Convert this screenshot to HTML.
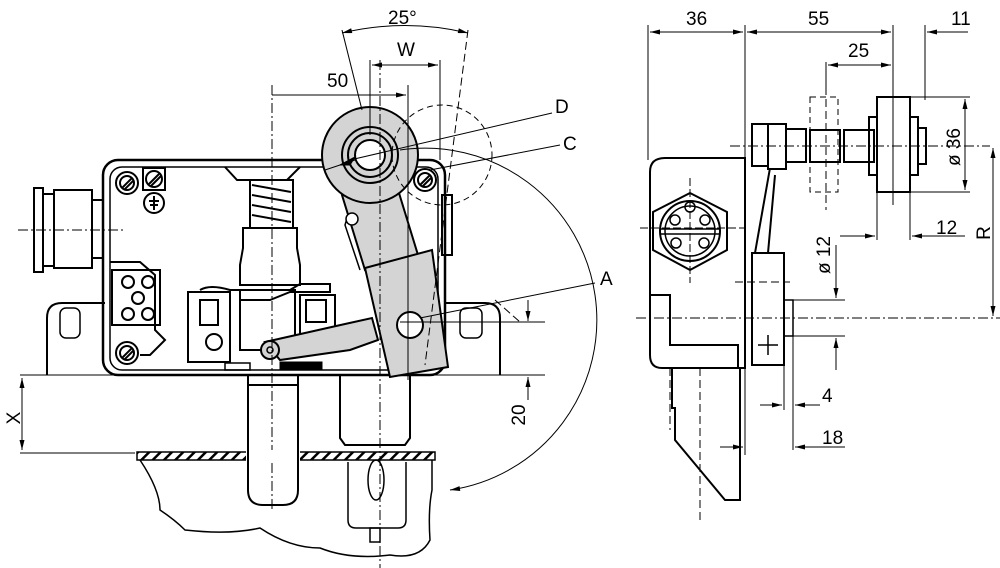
<!DOCTYPE html>
<html><head><meta charset="utf-8"><style>
html,body{margin:0;padding:0;background:#fff}
svg{display:block}
text{font-family:"Liberation Sans",sans-serif;font-size:19px;fill:#000}
</style></head><body>
<svg width="1000" height="568" viewBox="0 0 1000 568" xmlns="http://www.w3.org/2000/svg">
<defs>
<marker id="a" viewBox="0 0 12 6" refX="12" refY="3" markerWidth="12" markerHeight="5" orient="auto-start-reverse" markerUnits="userSpaceOnUse"><path d="M0,0L12,3L0,6z" fill="#000"/></marker>
<pattern id="h" width="8" height="8" patternUnits="userSpaceOnUse" patternTransform="rotate(45)"><rect width="2.5" height="8" fill="#000"/></pattern>
</defs>
<g fill="none" stroke="#000" stroke-width="1">
<line x1="20" y1="375" x2="545" y2="375"/>
<line x1="20" y1="453" x2="135" y2="453"/>
<line x1="22" y1="378" x2="22" y2="450" marker-start="url(#a)" marker-end="url(#a)"/>
<path d="M47,375V318q0,-15 15,-15H105M445,303H485q15,0 15,15V375" stroke-width="2"/>
<rect x="60" y="308" width="20" height="30" rx="6" stroke-width="1.5"/>
<rect x="460" y="308" width="22" height="30" rx="6" stroke-width="1.5"/>
<rect x="103" y="160" width="342" height="215" rx="15" stroke-width="2.5"/>
<rect x="110" y="167" width="328" height="203" rx="12" stroke-width="1.5"/>
<rect x="34" y="188" width="9" height="84" stroke-width="2"/>
<rect x="54" y="190" width="38" height="78" stroke-width="2"/>
<line x1="43" y1="194" x2="54" y2="194" stroke-width="2"/><line x1="43" y1="266" x2="54" y2="266" stroke-width="2"/>
<line x1="92" y1="200" x2="103" y2="200" stroke-width="2"/><line x1="92" y1="258" x2="103" y2="258" stroke-width="2"/>
<line x1="18" y1="230" x2="125" y2="230" stroke-dasharray="10,3,2,3"/>
<g stroke-width="2"><circle cx="127" cy="183" r="11"/><circle cx="127" cy="183" r="7"/><circle cx="127" cy="353" r="11"/><circle cx="127" cy="353" r="7"/>
<rect x="143" y="168" width="22" height="22"/><circle cx="154" cy="179" r="8"/><circle cx="154" cy="203" r="10"/>
<circle cx="425" cy="180" r="11"/><circle cx="425" cy="180" r="7"/>
<path d="M122,188L132,178M124,190L134,180M122,358L132,348M124,360L134,350M149,184L159,174M151,186L161,176M420,185L430,175M422,187L432,177M154,196V210M149,201H159M150,205H158"/></g>
<path d="M110,262H140L155,275V330L165,340L150,355H140" stroke-width="2"/>
<rect x="112" y="270" width="48" height="55" stroke-width="2"/>
<g stroke-width="2"><circle cx="128" cy="282" r="6"/><circle cx="148" cy="282" r="6"/><circle cx="138" cy="298" r="6"/><circle cx="128" cy="314" r="6"/><circle cx="148" cy="314" r="6"/></g>
<path d="M225,167L237,180H287L300,167" stroke-width="2"/>
<rect x="250" y="180" width="43" height="48" stroke-width="2"/>
<path d="M252,185L291,192M252,195L291,202M252,205L291,212M252,215L291,222" stroke-width="2"/>
<path d="M243,228H297V248L300,265V285H240V265L243,248Z" stroke-width="2"/>
<path d="M200,290Q210,284 230,290H290L300,284H330V292H290L270,300H240" stroke-width="2"/>
<rect x="240" y="290" width="55" height="60" stroke-width="2"/>
<rect x="188" y="292" width="42" height="70" stroke-width="2"/>
<rect x="200" y="300" width="18" height="25" stroke-width="2"/>
<circle cx="214" cy="342" r="8" stroke-width="2"/>
<rect x="300" y="295" width="35" height="55" stroke-width="2"/>
<rect x="306" y="300" width="20" height="22" stroke-width="2"/>
<rect x="280" y="362" width="42" height="8" fill="#000"/>
<rect x="225" y="363" width="25" height="7" stroke-width="1.5"/>
<rect x="248" y="375" width="50" height="10" stroke-width="2"/>
<path d="M265,342L345,324L372,318L378,340L350,350L280,360Z" fill="#d4d4d4" stroke-width="2"/>
<circle cx="270" cy="350" r="9" fill="#d4d4d4" stroke-width="2"/>
<circle cx="270" cy="350" r="3" stroke-width="1.5"/>
<path d="M342,195L395,180L418,255L365,270Z" fill="#d4d4d4" stroke-width="2"/>
<path d="M365,268L432,250L448,367L390,377Z" fill="#d4d4d4" stroke-width="2"/>
<circle cx="410" cy="325" r="13" fill="#fff" stroke-width="2"/>
<path d="M348,215L345,225L360,270" stroke-width="1.5"/>
<circle cx="352" cy="219" r="6" fill="#fff" stroke-width="1.5"/>
<rect x="442" y="195" width="10" height="60" stroke-width="2"/>
<circle cx="370" cy="155" r="48" fill="#d4d4d4" stroke-width="2"/>
<circle cx="370" cy="155" r="28" stroke-width="2"/>
<circle cx="370" cy="155" r="22" stroke-width="2"/>
<circle cx="370" cy="155" r="15" fill="#fff" stroke-width="2"/>
<circle cx="442" cy="155" r="50" stroke-dasharray="6,4"/>
<path d="M340,165L355,157L350,165z" fill="#000"/>
<line x1="325" y1="170" x2="355" y2="160"/>
<line x1="272" y1="85" x2="272" y2="510" stroke-dasharray="10,3,2,3"/>
<line x1="380" y1="60" x2="380" y2="568" stroke-dasharray="10,3,2,3"/>
<line x1="408" y1="85" x2="408" y2="380"/>
<line x1="370" y1="60" x2="370" y2="135"/>
<line x1="440" y1="60" x2="440" y2="160"/>
<line x1="342" y1="30" x2="362" y2="110"/>
<line x1="468" y1="30" x2="425" y2="365" stroke-dasharray="8,4"/>
<path d="M342,33Q405,18 468,33" marker-start="url(#a)" marker-end="url(#a)"/>
<line x1="372" y1="65" x2="438" y2="65" marker-start="url(#a)" marker-end="url(#a)"/>
<line x1="272" y1="95" x2="406" y2="95" marker-end="url(#a)"/>
<line x1="350" y1="160" x2="552" y2="113"/>
<line x1="430" y1="170" x2="560" y2="145"/>
<line x1="420" y1="318" x2="595" y2="283"/>
<path d="M400,150A160,160 0 0 1 450,490" marker-end="url(#a)"/>
<line x1="400" y1="322" x2="545" y2="322"/>
<line x1="528" y1="300" x2="528" y2="321" marker-end="url(#a)"/>
<line x1="528" y1="400" x2="528" y2="377" marker-end="url(#a)"/>
<line x1="495" y1="300" x2="520" y2="322" stroke-dasharray="8,4"/>
<path d="M248,385V490q0,15 15,15H283q15,0 15,-15V385" stroke-width="2"/>
<path d="M340,375V438L345,445H405L410,438V375" stroke-width="2"/>
<rect x="137" y="452" width="298" height="8" fill="url(#h)" stroke-width="1.5"/>
<rect x="246" y="450" width="54" height="12" fill="#fff" stroke="none"/>
<path d="M248,450V462M298,450V462" stroke-width="2"/>
<path d="M140,460Q160,490 160,510Q175,520 185,530Q230,535 260,528Q290,548 320,548Q350,560 390,555Q420,560 430,540Q428,510 432,490V460" stroke-width="1.5"/>
<path d="M348,462V520Q348,528 356,528H398Q406,528 406,520V462" stroke-width="1.5"/>
<ellipse cx="376" cy="480" rx="8" ry="20" stroke-width="1.5"/>
<rect x="370" y="528" width="10" height="14" stroke-width="1.5"/>
<line x1="648" y1="25" x2="648" y2="160"/><line x1="745" y1="25" x2="745" y2="160"/>
<line x1="893" y1="25" x2="893" y2="100"/><line x1="925" y1="25" x2="925" y2="100"/>
<line x1="826" y1="62" x2="826" y2="95"/>
<line x1="650" y1="32" x2="743" y2="32" marker-start="url(#a)" marker-end="url(#a)"/>
<line x1="747" y1="32" x2="891" y2="32" marker-start="url(#a)" marker-end="url(#a)"/>
<line x1="968" y1="32" x2="927" y2="32" marker-end="url(#a)"/>
<line x1="828" y1="65" x2="891" y2="65" marker-start="url(#a)" marker-end="url(#a)"/>
<path d="M745,158V368H662Q650,368 650,355V172Q650,158 665,158Z" stroke-width="2"/>
<path d="M650,295H670V345H738V368" stroke-width="2"/>
<polygon points="690,193 727,212 727,250 690,270 653,250 653,212" stroke-width="2"/>
<circle cx="690" cy="231" r="30" stroke-width="2"/>
<circle cx="690" cy="231" r="25" stroke-width="1.5"/>
<g stroke-width="1.5"><circle cx="690" cy="207" r="5"/><circle cx="675" cy="220" r="5"/><circle cx="705" cy="220" r="5"/><circle cx="676" cy="243" r="5"/><circle cx="704" cy="243" r="5"/></g>
<line x1="660" y1="229" x2="720" y2="229" stroke-width="1.5"/><line x1="660" y1="234" x2="720" y2="234" stroke-width="1.5"/>
<line x1="640" y1="228" x2="745" y2="228" stroke-dasharray="8,3"/>
<line x1="690" y1="178" x2="690" y2="283" stroke-dasharray="8,3"/>
<path d="M672,368V408H675V440L725,500H740V368" stroke-width="2"/>
<path d="M670,368V430M700,368V520" stroke-dasharray="8,4"/>
<line x1="745" y1="368" x2="745" y2="455"/>
<rect x="752" y="124" width="16" height="42" stroke-width="2"/>
<rect x="768" y="124" width="18" height="45" stroke-width="2"/>
<rect x="786" y="129" width="20" height="33" stroke-width="2"/>
<rect x="810" y="130" width="30" height="32" stroke-width="2"/>
<rect x="844" y="130" width="30" height="32" stroke-width="2"/>
<rect x="810" y="97" width="28" height="95" stroke-dasharray="6,4"/>
<rect x="869" y="117" width="8" height="58" stroke-width="2"/>
<rect x="877" y="97" width="33" height="95" stroke-width="2"/>
<rect x="910" y="117" width="8" height="58" stroke-width="2"/>
<rect x="918" y="128" width="8" height="36" stroke-width="2"/>
<path d="M770,168L755,253H768L775,175" stroke-width="2"/>
<rect x="752" y="253" width="32" height="112" stroke-width="2"/>
<path d="M758,345H778M768,335V355" stroke-width="1.5"/>
<rect x="784" y="300" width="9" height="36" stroke-width="1.5"/>
<line x1="730" y1="146" x2="990" y2="146" stroke-dasharray="10,3,2,3"/>
<line x1="826" y1="75" x2="826" y2="210" stroke-dasharray="8,4"/>
<line x1="893" y1="75" x2="893" y2="205"/>
<line x1="636" y1="318" x2="1000" y2="318" stroke-dasharray="10,3,2,3"/>
<line x1="735" y1="282" x2="790" y2="282" stroke-dasharray="8,4"/>
<line x1="910" y1="97" x2="970" y2="97"/><line x1="910" y1="192" x2="970" y2="192"/>
<line x1="965" y1="99" x2="965" y2="190" marker-start="url(#a)" marker-end="url(#a)"/>
<line x1="840" y1="236" x2="875" y2="236" marker-end="url(#a)"/>
<line x1="965" y1="236" x2="912" y2="236" marker-end="url(#a)"/>
<line x1="877" y1="192" x2="877" y2="240"/><line x1="910" y1="192" x2="910" y2="240"/>
<line x1="993" y1="148" x2="993" y2="316" marker-start="url(#a)" marker-end="url(#a)"/>
<line x1="793" y1="300" x2="845" y2="300"/><line x1="793" y1="336" x2="845" y2="336"/>
<line x1="836" y1="245" x2="836" y2="298" marker-end="url(#a)"/>
<line x1="836" y1="370" x2="836" y2="338" marker-end="url(#a)"/>
<line x1="784" y1="365" x2="784" y2="410"/><line x1="793" y1="336" x2="793" y2="450"/>
<line x1="760" y1="405" x2="782" y2="405" marker-end="url(#a)"/>
<line x1="820" y1="405" x2="795" y2="405" marker-end="url(#a)"/>
<line x1="720" y1="447" x2="743" y2="447" marker-end="url(#a)"/>
<line x1="845" y1="447" x2="795" y2="447" marker-end="url(#a)"/>
</g>
<text x="388" y="24">25°</text>
<text x="397" y="56">W</text>
<text x="327" y="87">50</text>
<text x="555" y="113">D</text>
<text x="563" y="150">C</text>
<text x="600" y="285">A</text>
<text x="20" y="418" transform="rotate(-90 20 418)" text-anchor="middle">X</text>
<text x="525" y="415" transform="rotate(-90 525 415)" text-anchor="middle">20</text>
<text x="686" y="25">36</text>
<text x="808" y="25">55</text>
<text x="951" y="25">11</text>
<text x="848" y="57">25</text>
<text x="936" y="234">12</text>
<text x="960" y="147" transform="rotate(-90 960 147)" text-anchor="middle">ø 36</text>
<text x="990" y="233" transform="rotate(-90 990 233)" text-anchor="middle">R</text>
<text x="830" y="255" transform="rotate(-90 830 255)" text-anchor="middle">ø 12</text>
<text x="822" y="402">4</text>
<text x="822" y="444">18</text>
</svg>
</body></html>
